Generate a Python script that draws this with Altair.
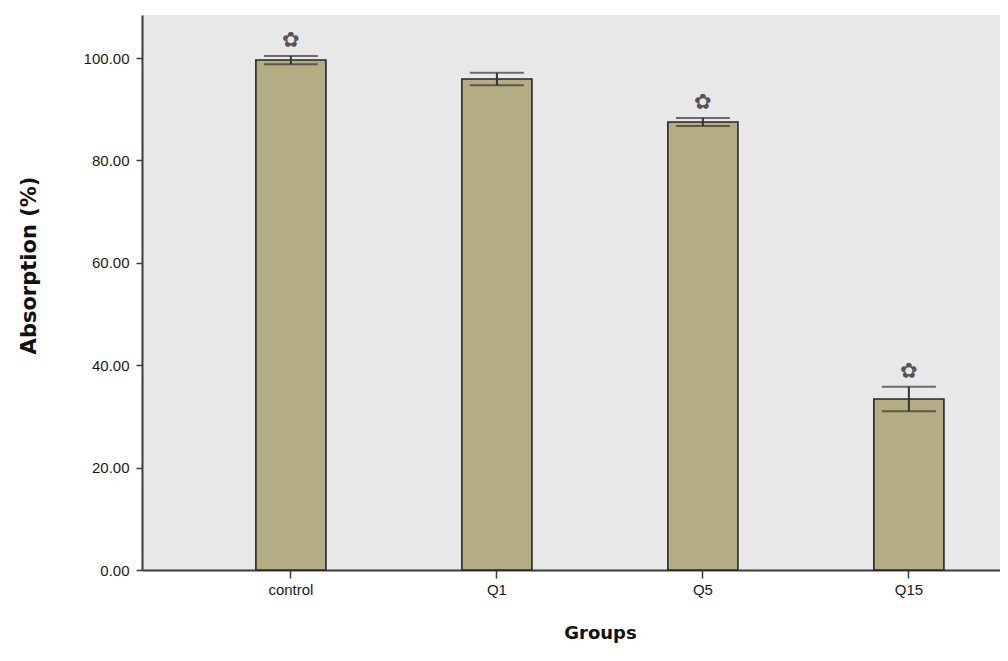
import altair as alt
import pandas as pd

groups = ["control", "Q1", "Q5", "Q15"]
means = [99.6, 95.9, 87.5, 33.4]
errors = [0.8, 1.2, 0.8, 2.4]
significant = [True, False, True, True]

df = pd.DataFrame({
    "group": groups,
    "mean": means,
    "err": errors,
    "sig": ["\u273f" if s else "" for s in significant],
})
df["lower"] = df["mean"] - df["err"]
df["upper"] = df["mean"] + df["err"]

xscale = alt.Scale(domain=groups, paddingInner=0.66, paddingOuter=0.4126, align=0.67)
yscale = alt.Scale(domain=[0, 108.4], nice=False, zero=True)

x_enc = alt.X("group:N", scale=xscale, sort=groups,
              axis=alt.Axis(title="Groups", labelAngle=0, tickSize=8, labelPadding=4,
                            titleX=458, titleY=63, titleAlign="center", titleBaseline="middle",
                            titleFontSize=18, titleFontWeight="bold"))
y_enc = alt.Y("mean:Q", scale=yscale,
              axis=alt.Axis(title="Absorption (%)", values=[0, 20, 40, 60, 80, 100], format=".2f",
                            tickSize=6, labelPadding=7, grid=False,
                            titleX=-113, titleY=250, titleAngle=-90, titleAlign="center",
                            titleBaseline="middle", titleFontSize=21, titleFontWeight="bold"))

base = alt.Chart(df)

bars = base.mark_bar(color="#b4ac82", stroke="#262626", strokeWidth=1.6).encode(x=x_enc, y=y_enc)

err_rule = base.mark_rule(color="#333333", strokeWidth=2).encode(
    x=alt.X("group:N", scale=xscale, sort=groups),
    y=alt.Y("lower:Q", scale=yscale),
    y2="upper:Q",
)
cap_hi = base.mark_tick(color="#333333", thickness=2, size=54, orient="horizontal").encode(
    x=alt.X("group:N", scale=xscale, sort=groups),
    y=alt.Y("upper:Q", scale=yscale),
)
cap_lo = base.mark_tick(color="#333333", thickness=2, size=54, orient="horizontal").encode(
    x=alt.X("group:N", scale=xscale, sort=groups),
    y=alt.Y("lower:Q", scale=yscale),
)
stars = base.mark_text(font="DejaVu Sans", fontSize=21, fontWeight="bold", color="#555555",
                       dy=-15, baseline="middle").encode(
    x=alt.X("group:N", scale=xscale, sort=groups),
    y=alt.Y("upper:Q", scale=yscale),
    text="sig:N",
)

chart = alt.layer(bars, err_rule, cap_hi, cap_lo, stars).properties(
    width=858, height=555,
    autosize=alt.AutoSizeParams(type="none"),
    padding={"left": 134, "top": 7, "right": 0, "bottom": 83},
    background="white",
).configure_view(
    fill="#e8e8e8", stroke=None,
).configure_axis(
    domainColor="#3a3a3a", domainWidth=2, tickColor="#3a3a3a", tickWidth=1.5,
    labelFont="Liberation Sans", labelFontSize=15, labelColor="#1a1a1a",
    titleFont="DejaVu Sans", titleColor="#111111",
)

chart.save("out.html", embed_options={"renderer": "svg", "actions": False})
